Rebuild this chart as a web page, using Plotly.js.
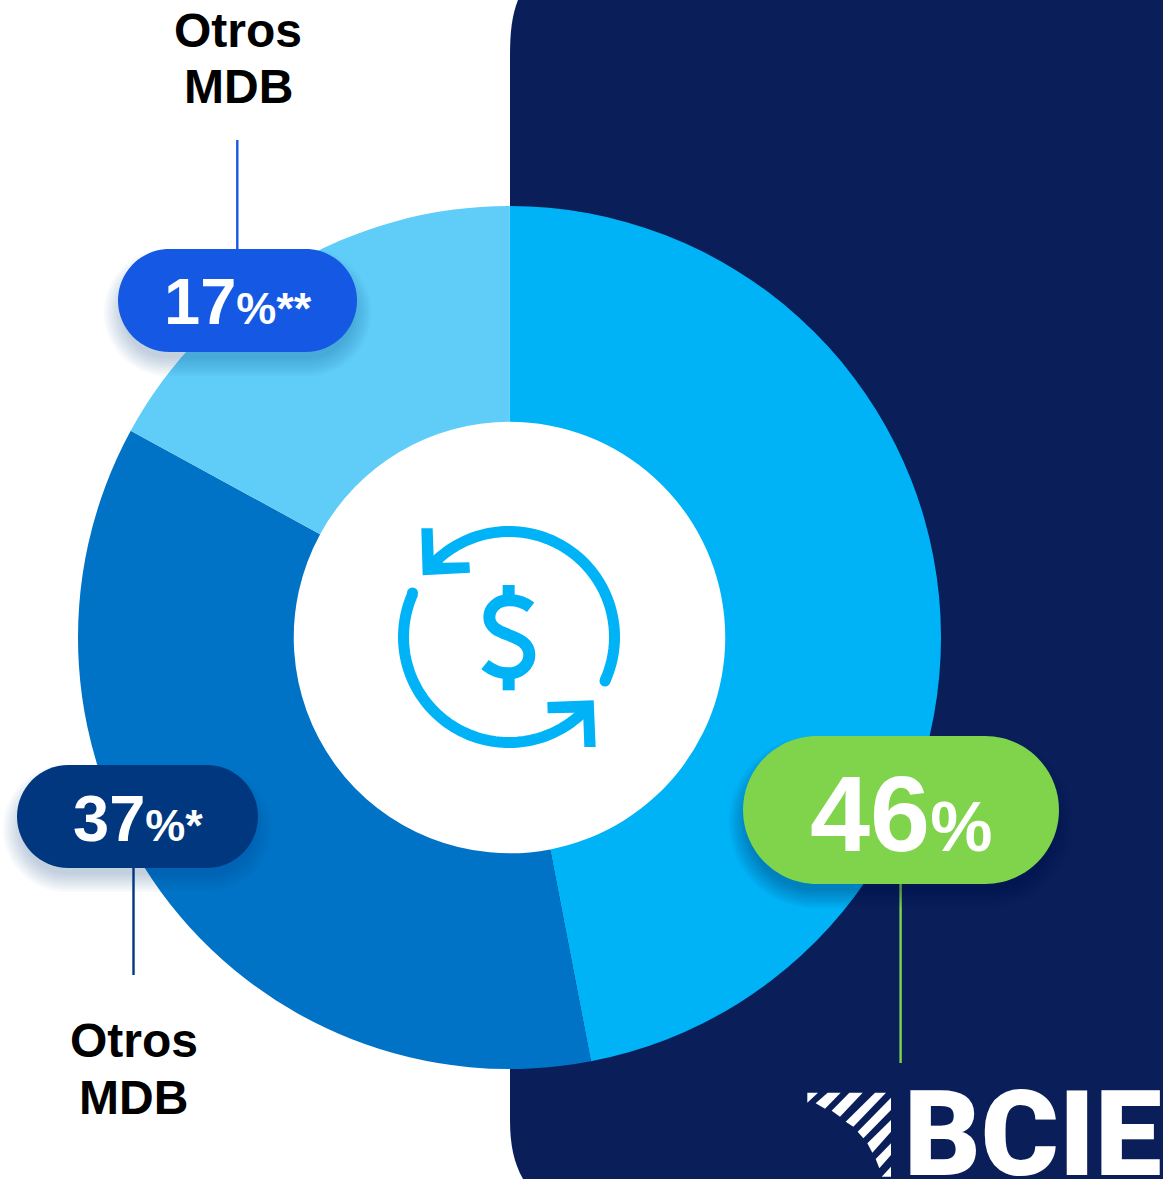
<!DOCTYPE html>
<html>
<head>
<meta charset="utf-8">
<script src="https://cdn.plot.ly/plotly-3.0.1.min.js"></script>
<style>html,body{margin:0;padding:0;background:#fff}#c{width:1163px;height:1179px}</style>
</head>
<body>
<div id="c"></div>
<script>
const W = 1163, H = 1179;
// Chart data
const categories = ['BCIE', 'Otros MDB*', 'Otros MDB**'];
const sliceValues = [46.98, 35.97, 17.05];
const sliceColors = ['#00B3F7', '#0073C7', '#5FCDF7'];
const printedPercents = ['46', '37', '17'];
const printedSuffixes = ['%', '%*', '%**'];
const pillColors = ['#7FD44C', '#00377F', '#1558E3'];

const px = x => x / W;
const py = y => 1 - y / H;
const P = (x, y) => px(x) + ' ' + py(y);

function pathShape(d, fill, extra) {
  return Object.assign({type: 'path', xref: 'paper', yref: 'paper', path: d, fillcolor: fill, line: {width: 0}, layer: 'above'}, extra || {});
}
function poly(points, fill) {
  return pathShape('M' + points.map(p => P(p[0], p[1])).join(' L') + ' Z', fill);
}
function pillPath(x0, y0, x1, y1) {
  const r = (y1 - y0) / 2, k = r * 0.5523, m = (y0 + y1) / 2;
  return 'M' + P(x0 + r, y0) + ' L' + P(x1 - r, y0) +
    ' C' + P(x1 - r + k, y0) + ' ' + P(x1, m - k) + ' ' + P(x1, m) +
    ' C' + P(x1, m + k) + ' ' + P(x1 - r + k, y1) + ' ' + P(x1 - r, y1) +
    ' L' + P(x0 + r, y1) +
    ' C' + P(x0 + r - k, y1) + ' ' + P(x0, m + k) + ' ' + P(x0, m) +
    ' C' + P(x0, m - k) + ' ' + P(x0 + r - k, y0) + ' ' + P(x0 + r, y0) + ' Z';
}
function line(x0, y0, x1, y1, color, width) {
  return {type: 'line', xref: 'paper', yref: 'paper', x0: px(x0), y0: py(y0), x1: px(x1), y1: py(y1), line: {color: color, width: width}, layer: 'above'};
}
function arc(cx, cy, r, a0, a1, color, width) {
  // angles in degrees clockwise from top
  const n = Math.ceil(Math.abs(a1 - a0) / 2);
  const pts = [];
  for (let i = 0; i <= n; i++) {
    const a = (a0 + (a1 - a0) * i / n) * Math.PI / 180;
    pts.push(P(cx + r * Math.sin(a), cy - r * Math.cos(a)));
  }
  return {type: 'path', xref: 'paper', yref: 'paper', path: 'M' + pts.join(' L'), line: {color: color, width: width}, layer: 'above'};
}
function dot(cx, cy, r, color, layer) {
  return {type: 'circle', xref: 'paper', yref: 'paper', x0: px(cx - r), x1: px(cx + r), y0: py(cy + r), y1: py(cy - r), fillcolor: color, line: {width: 0}, layer: layer || 'above'};
}
function pill(x0, y0, x1, y1, color, shadow) {
  const out = [];
  for (let i = 8; i >= 1; i--) {
    const g = i * 2.5;
    out.push(pathShape(pillPath(x0 - g + 6, y0 + 20 - g, x1 + g - 6, y1 + g + 4), shadow));
  }
  out.push(pathShape(pillPath(x0, y0, x1, y1), color));
  return out;
}

const ICON = '#00B3F7';
const zi = (x, y) => [380 + x / 3, 510 + y / 3];
const ziP = (x, y) => { const p = zi(x, y); return P(p[0], p[1]); };

const shapes = [
  // navy panel behind the doughnut
  pathShape('M' + P(518, 0) + ' C' + P(512, 15) + ' ' + P(510, 32) + ' ' + P(510, 55) +
    ' L' + P(510, 1120) + ' C' + P(510, 1145) + ' ' + P(514, 1163) + ' ' + P(523, 1179) +
    ' L' + P(1163, 1179) + ' L' + P(1163, 0) + ' Z', '#0A1F5A', {layer: 'below'}),
  // white centre of the doughnut
  dot(509.5, 637.5, 217, '#FFFFFF', 'below'),
  // leader lines
  line(237.3, 140, 237.3, 250, pillColors[2], 2.4),
  line(133.5, 867, 133.5, 975, pillColors[1], 2.4),
  line(900.6, 883, 900.6, 1063, pillColors[0], 2.4),
  // pills with soft shadows
  ...pill(118, 249, 357, 352, pillColors[2], 'rgba(0,50,130,0.03)'),
  ...pill(17, 765, 258, 868, pillColors[1], 'rgba(0,50,130,0.03)'),
  ...pill(743, 736, 1059, 884, pillColors[0], 'rgba(0,20,70,0.045)'),
  // centre icon
  arc(509, 637, 105.5, -50, 114.6, ICON, 11),
  arc(509, 637, 105.5, 132, 294.5, ICON, 11),
  dot(605, 681, 5.5, ICON),
  dot(412.5, 593, 5.5, ICON),
  poly([[124,55],[158,55],[161,140],[190,158],[268,157],[270,188],[128,196]].map(p => zi(p[0], p[1])), ICON),
  poly([[502,576],[641,571],[647,711],[613,711],[610,625],[585,608],[503,610]].map(p => zi(p[0], p[1])), ICON),
  {type: 'path', xref: 'paper', yref: 'paper', layer: 'above', line: {color: ICON, width: 12},
   path: 'M' + ziP(452, 292) + ' C' + ziP(430, 275) + ' ' + ziP(405, 270) + ' ' + ziP(385, 271) +
     ' C' + ziP(350, 272) + ' ' + ziP(328, 295) + ' ' + ziP(328, 322) +
     ' C' + ziP(328, 385) + ' ' + ziP(448, 365) + ' ' + ziP(448, 435) +
     ' C' + ziP(448, 465) + ' ' + ziP(420, 490) + ' ' + ziP(385, 490) +
     ' C' + ziP(360, 490) + ' ' + ziP(335, 480) + ' ' + ziP(315, 464)},
  poly([[368,225],[404,225],[404,262],[368,262]].map(p => zi(p[0], p[1])), ICON),
  poly([[368,504],[404,504],[404,541],[368,541]].map(p => zi(p[0], p[1])), ICON)
];

// BCIE logo stripes
const zl = (x, y) => [780 + x / 3, 1060 + y / 3];
[
  [[82,98],[114,98],[82,128]],
  [[107,130],[143,98],[182,98],[135,146]],
  [[155,152],[208,98],[248,98],[180,170]],
  [[197,185],[285,98],[318,98],[220,200]],
  [[233,215],[333,113],[333,150],[250,235]],
  [[262,250],[333,180],[333,215],[277,278]],
  [[287,297],[333,250],[333,285],[298,325]],
  [[305,350],[333,320],[333,350]]
].forEach(s => shapes.push(poly(s.map(p => zl(p[0], p[1])), '#FFFFFF')));

function note(text, x, y, size, color, extra) {
  return Object.assign({
    xref: 'paper', yref: 'paper', x: px(x), y: py(y), text: text, showarrow: false,
    xanchor: 'center', yanchor: 'middle', borderpad: 0,
    font: {family: '"Liberation Sans", Arial, sans-serif', size: size, color: color, weight: 700}
  }, extra || {});
}
const big = (n, s, a, b) => '<span style="font-size:' + a + 'px">' + n + '</span><span style="font-size:' + b + 'px">' + s + '</span>';

const annotations = [
  note('Otros', 238, 30, 48, '#000000'),
  note('MDB', 238, 87, 48, '#000000'),
  note('Otros', 133.5, 1040, 48, '#000000'),
  note('MDB', 133.5, 1097, 48, '#000000'),
  note(big(printedPercents[2], printedSuffixes[2], 65, 45), 238, 302, 65, '#FFFFFF'),
  note(big(printedPercents[1], printedSuffixes[1], 65, 45), 138, 818, 65, '#FFFFFF'),
  note(big(printedPercents[0], printedSuffixes[0], 108, 70), 901, 813, 108, '#FFFFFF'),
  note('BCIE', 1032, 1134, 119, '#FFFFFF', {
    font: {family: 'Roboto, "Liberation Sans", sans-serif', size: 119, color: '#FFFFFF', weight: 900}
  })
];

const trace = {
  type: 'pie',
  labels: categories,
  values: sliceValues,
  sort: false,
  direction: 'clockwise',
  rotation: 0,
  hole: 0.5,
  textinfo: 'none',
  hoverinfo: 'label',
  marker: {colors: sliceColors, line: {width: 0}},
  domain: {x: [px(78), px(941)], y: [py(1069), py(206)]}
};

Plotly.newPlot('c', [trace], {
  width: W, height: H,
  margin: {l: 0, r: 0, t: 0, b: 0},
  paper_bgcolor: '#FFFFFF',
  showlegend: false,
  shapes: shapes,
  annotations: annotations
}, {displayModeBar: false, responsive: false});
</script>
</body>
</html>
